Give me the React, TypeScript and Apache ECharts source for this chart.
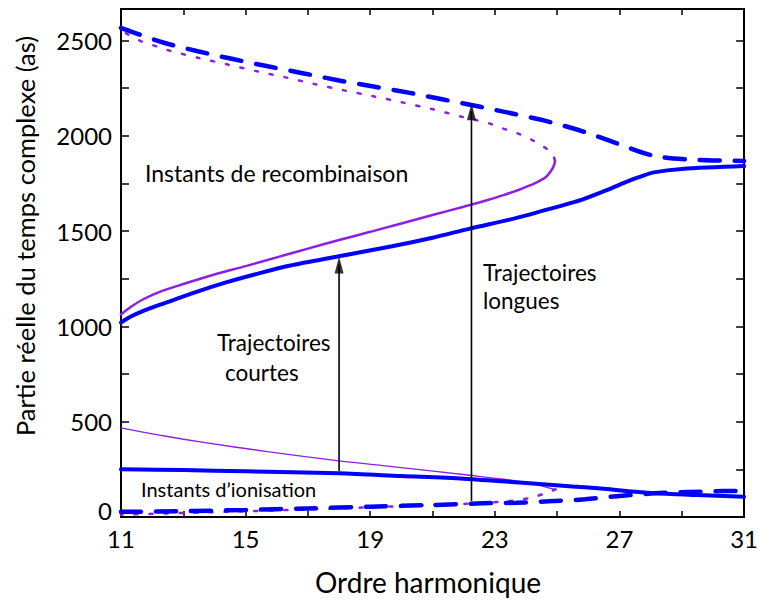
import React, { useEffect, useRef } from "react";
import * as echarts from "echarts";

// Axis ticks and labels
const xTickValues = [11, 13, 15, 17, 19, 21, 23, 25, 27, 29, 31];
const xLabelValues = [11, 15, 19, 23, 27, 31];
const yTickValues = [0, 250, 500, 750, 1000, 1250, 1500, 1750, 2000, 2250, 2500];
const yLabelValues = [0, 500, 1000, 1500, 2000, 2500];

// Recombination instants
const recombCourteBleu = [
  [11, 1020], [11.3, 1050], [11.7, 1080], [12.4, 1122], [13.4, 1180], [14.4, 1232],
  [15.4, 1277], [16.4, 1318], [18, 1368], [19.7, 1420], [21, 1465], [22.2, 1513],
  [23.7, 1569], [25, 1627], [25.8, 1665], [26.6, 1715], [27.2, 1757], [27.7, 1787],
  [28.1, 1808], [29, 1826], [31, 1841],
];
const recombCourteViolet = [
  [11, 1062], [11.3, 1100], [11.7, 1141], [12.3, 1185], [13, 1222], [14, 1272],
  [15, 1316], [16, 1362], [17, 1408], [18, 1453], [19, 1496], [20, 1540], [21, 1584],
  [22, 1628], [22.8, 1664], [23.3, 1690], [23.78, 1717], [24.1, 1738], [24.41, 1761],
  [24.65, 1785], [24.8, 1815], [24.9, 1845], [24.93, 1870],
];
const recombLongueViolet = [
  [24.93, 1870], [24.85, 1905], [24.68, 1930], [24.22, 1976], [23.75, 2011], [23.3, 2036],
  [22.82, 2065], [22.35, 2084], [21.87, 2102], [21.4, 2123], [20.98, 2140], [20.03, 2175],
  [19.1, 2207], [18.17, 2238], [17.22, 2271], [16.32, 2305], [15.37, 2338], [14.45, 2373],
  [13.5, 2408], [12.57, 2446], [12.12, 2470], [11.63, 2497], [11.14, 2540], [11, 2556],
];
const recombLongueBleu = [
  [11, 2566], [11.3, 2548], [12.38, 2488], [13.5, 2442], [14.63, 2401], [15.75, 2363],
  [16.87, 2327], [18, 2290], [19.15, 2257], [20.27, 2225], [21.35, 2190], [22.53, 2152],
  [23.63, 2114], [24.75, 2073], [25.82, 2023], [26.95, 1958], [28.07, 1896], [29.2, 1875],
  [30.3, 1870], [31, 1868],
];

// Ionisation instants
const ionisCourteBleu = [
  [11, 250], [13, 246], [15, 240], [18, 229], [20, 215], [22, 201], [24, 178],
  [25.5, 160], [26.5, 148], [27.5, 133], [28.5, 122], [29.5, 115], [31, 106],
];
const ionisCourteViolet = [
  [11, 468], [12.4, 425], [13.7, 390], [15.7, 343], [18, 294], [19.7, 264],
  [22.2, 219], [23.7, 189], [24.5, 163], [24.8, 150], [24.95, 145],
];
const ionisLongueViolet = [
  [24.95, 145], [24.7, 129], [24.2, 103], [23.5, 84], [22.2, 70], [21, 64],
  [19, 51], [17, 40], [15, 30], [13, 21], [11, 12],
];
const ionisLongueBleu = [
  [11, 27], [13, 31], [15, 37], [17, 45], [19, 54], [21, 63], [22.6, 72],
  [23.7, 75], [24.7, 82], [25.9, 93], [27, 110], [28.1, 124], [29.2, 131],
  [30.3, 136], [31, 137],
];

// Arrows (x position, start value, tip value)
const arrowX = [18, 22.25];
const arrowFrom = [241, 84];
const arrowTo = [1366, 2170];

const FONT = "Lato";
const BLUE = "#0000ff";
const VIOLET = "#8c1ee6";

export default function App() {
  const ref = useRef<HTMLDivElement>(null);
  useEffect(() => {
    if (!ref.current) return;
    const chart = echarts.init(ref.current, undefined, { renderer: "svg" });

    const axisCommon = {
      type: "value" as const,
      axisLine: { show: true, onZero: false, lineStyle: { color: "#000", width: 2 } },
      splitLine: { show: false },
    };

    const line = (data: number[][], color: string, width: number, type: any, smooth = 0.3) => ({
      type: "line",
      data,
      showSymbol: false,
      symbol: "none",
      smooth,
      lineStyle: { color, width, type, cap: "round" },
      z: 2,
    });

    const arrowSeries: any[] = [];
    arrowX.forEach((x, i) => {
      arrowSeries.push({
        type: "line",
        data: [[x, arrowFrom[i]], [x, arrowTo[i] - 40]],
        showSymbol: false,
        symbol: "none",
        lineStyle: { color: "#000", width: 1.6 },
        z: 5,
      });
      arrowSeries.push({
        type: "scatter",
        data: [[x, arrowTo[i]]],
        symbol: "path://M5,0 L10,20 L0,20 Z",
        symbolSize: [9, 17],
        symbolOffset: [0, "50%"],
        itemStyle: { color: "#000" },
        z: 6,
      });
    });

    const txt = (text: string, x: number, y: number, size: number, align = "left", rotation = 0) => ({
      type: "text",
      x,
      y,
      rotation,
      style: { text, font: `${size}px ${FONT}`, fill: "#000", align, verticalAlign: "middle" },
    });

    chart.setOption({
      animation: false,
      grid: { left: 121, right: 10, top: 9, bottom: 84 },
      xAxis: [
        {
          ...axisCommon,
          position: "bottom",
          min: 11,
          max: 31,
          axisTick: { show: true, inside: true, length: 6, customValues: xTickValues, lineStyle: { color: "#000", width: 1.5 } },
          axisLabel: { show: true, customValues: xLabelValues, margin: 9, color: "#000", fontSize: 24, fontFamily: FONT },
        },
        {
          ...axisCommon,
          position: "top",
          min: 11,
          max: 31,
          axisTick: { show: true, inside: true, length: 6, customValues: xTickValues, lineStyle: { color: "#000", width: 1.5 } },
          axisLabel: { show: false },
        },
      ],
      yAxis: [
        {
          ...axisCommon,
          position: "left",
          min: 0,
          max: 2665,
          axisTick: { show: true, inside: true, length: 8, customValues: yTickValues, lineStyle: { color: "#000", width: 1.5 } },
          axisLabel: {
            show: true,
            customValues: yLabelValues,
            margin: 9,
            color: "#000",
            fontSize: 24,
            fontFamily: FONT,
            formatter: (v: number) => (v === 0 ? "{z|0}" : String(v)),
            rich: { z: { fontSize: 24, fontFamily: FONT, color: "#000", padding: [0, 0, 14, 0] } },
          },
        },
        {
          ...axisCommon,
          position: "right",
          min: 0,
          max: 2665,
          axisTick: { show: true, inside: true, length: 8, customValues: yTickValues, lineStyle: { color: "#000", width: 1.5 } },
          axisLabel: { show: false },
        },
      ],
      series: [
        line(recombLongueViolet, VIOLET, 2.5, [3, 12]),
        line(recombLongueBleu, BLUE, 4.5, [20, 15]),
        line(recombCourteViolet, VIOLET, 2.5, "solid"),
        line(recombCourteBleu, BLUE, 4, "solid"),
        line(ionisLongueViolet, VIOLET, 2.5, [3, 12]),
        line(ionisLongueBleu, BLUE, 4.5, [20, 15]),
        line(ionisCourteViolet, VIOLET, 1.3, "solid"),
        line(ionisCourteBleu, BLUE, 4, "solid"),
        ...arrowSeries,
      ],
      graphic: [
        txt("Partie réelle du temps complexe (as)", 25, 236, 25.5, "center", Math.PI / 2),
        txt("Ordre harmonique", 428, 582, 28, "center"),
        txt("Instants de recombinaison", 145, 173, 23),
        txt("Instants d\u2019ionisation", 141, 489, 20),
        txt("Trajectoires", 217, 342, 22.5),
        txt("courtes", 225, 372, 22.5),
        txt("Trajectoires", 483, 272, 22.5),
        txt("longues", 483, 300, 22.5),
      ],
    });
    return () => chart.dispose();
  }, []);

  return (
    <div
      ref={ref}
      style={{ position: "fixed", left: 0, top: 0, width: 761, height: 601, background: "#fff" }}
    />
  );
}
